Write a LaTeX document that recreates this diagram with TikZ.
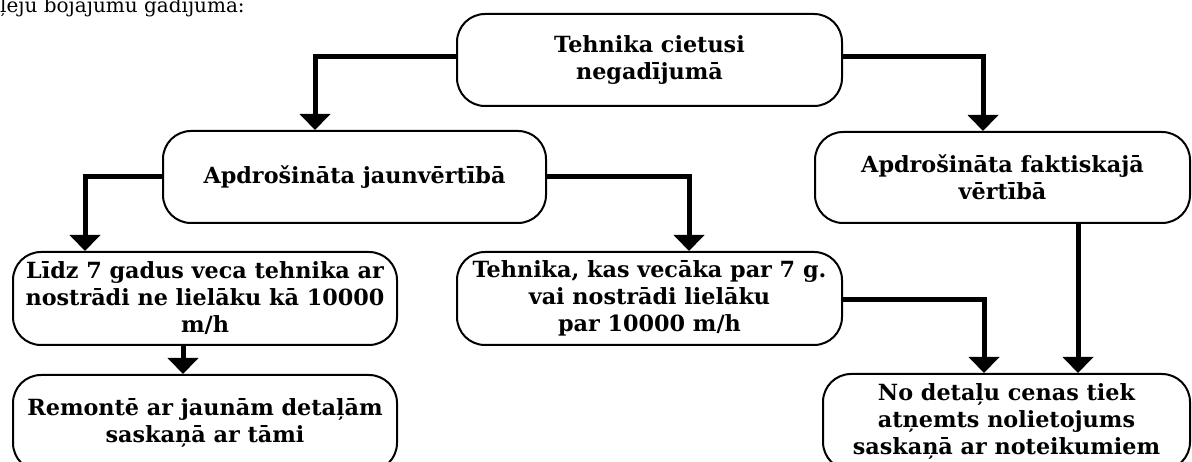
\documentclass[tikz,border=0pt]{standalone}
\usepackage{fontspec}
\setmainfont{DejaVu Serif}
\usetikzlibrary{arrows.meta}
\tikzset{
  box/.style={draw, line width=2pt, rounded corners=28pt, inner sep=0pt,
    align=center, font=\bfseries\fontsize{22.3}{27}\selectfont},
  conn/.style={line width=5pt, -{Triangle[width=30pt,length=16pt]}},
  note/.style={anchor=base west, inner sep=0pt, font=\fontsize{20}{24}\selectfont}
}
\begin{document}
\begin{tikzpicture}[x=1pt,y=-1pt]
\useasboundingbox (0,0) rectangle (1192,462);
\clip (0,0) rectangle (1192,462);
\node[note] (top) at (0,13) {ļeju bojajumu gadijuma:};
\node[box, minimum width=385pt, minimum height=92pt] (b1) at (649.5,60) {Tehnika cietusi\\negadījumā};
\node[box, minimum width=383pt, minimum height=92pt] (b2) at (354.5,177) {Apdrošināta jaunvērtībā};
\node[box, minimum width=375pt, minimum height=91pt] (b6) at (1002.5,177.5) {Apdrošināta faktiskajā\\vērtībā};
\node[box, minimum width=384pt, minimum height=93pt] (b3) at (205,298.5) {Līdz 7 gadus veca tehnika ar\\nostrādi ne lielāku kā 10000\\m/h};
\node[box, minimum width=385pt, minimum height=93pt] (b5) at (649.5,298.5) {Tehnika, kas vecāka par 7 g.\\vai nostrādi lielāku\\par 10000 m/h};
\node[box, minimum width=384pt, minimum height=96pt] (b4) at (205,423) {Remontē ar jaunām detaļām\\saskaņā ar tāmi};
\node[box, minimum width=367pt, minimum height=96pt] (b7) at (1006.5,422) {No detaļu cenas tiek\\atņemts nolietojums\\saskaņā ar noteikumiem};
\draw[conn] ([yshift=3pt]b1.west) -| ([xshift=-39.5pt]b2.north);
\draw[conn] ([yshift=3pt]b1.east) -| ([xshift=-19.5pt]b6.north);
\draw[conn] (b2.west) -| ([xshift=-120pt]b3.north);
\draw[conn] (b2.east) -| ([xshift=39.5pt]b5.north);
\draw[conn] ([xshift=-22pt]b3.south) -- ([xshift=-22pt]b4.north);
\draw[conn] ([yshift=-1.5pt]b5.east) -| ([xshift=-22.5pt]b7.north);
\draw[conn] ([xshift=75.5pt]b6.south) -- ([xshift=71.5pt]b7.north);
\end{tikzpicture}
\end{document}
